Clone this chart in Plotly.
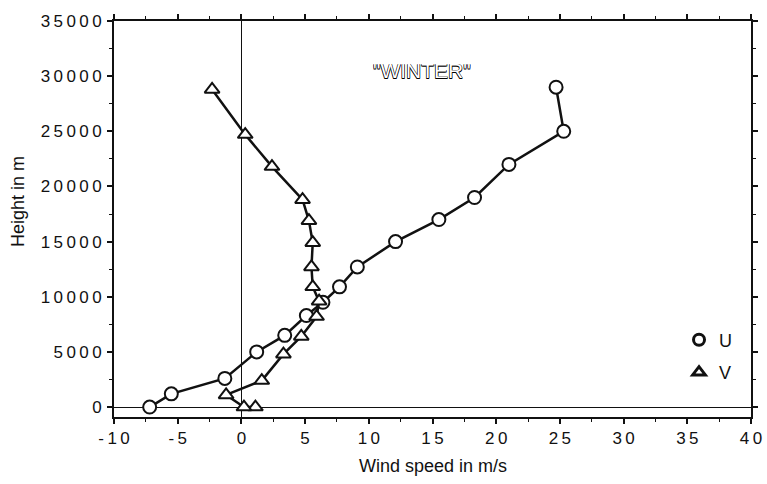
import plotly.graph_objects as go

# U component (circles)
u_speed = [-7.2, -5.5, -1.3, 1.2, 3.4, 5.1, 6.4, 7.7, 9.1, 12.1, 15.5, 18.3, 21.0, 25.3, 24.7]
u_height = [0, 1200, 2600, 5000, 6500, 8300, 9500, 10900, 12700, 15000, 17000, 19000, 22000, 25000, 29000]

# V component (triangles)
v_speed = [1.1, 0.2, -1.2, 1.6, 3.3, 4.7, 5.9, 6.1, 5.6, 5.5, 5.6, 5.3, 4.8, 2.4, 0.3, -2.3]
v_height = [0, 0, 1100, 2400, 4800, 6400, 8200, 9600, 10900, 12700, 14900, 16900, 18800, 21800, 24700, 28800]

x_ticks = [-10, -5, 0, 5, 10, 15, 20, 25, 30, 35, 40]
y_ticks = [0, 5000, 10000, 15000, 20000, 25000, 30000, 35000]

TS = "\u2009"  # thin space to mimic letter-spaced digits


def spaced(v):
    return TS.join(str(v))


FONT = "Liberation Sans, Arial, sans-serif"
INK = "#111111"

fig = go.Figure()

fig.add_trace(go.Scatter(
    x=u_speed, y=u_height, mode="lines+markers", name="U", showlegend=False,
    line=dict(color=INK, width=2.5),
    marker=dict(symbol="circle", size=13, color="white", line=dict(color=INK, width=2)),
))
fig.add_trace(go.Scatter(
    x=v_speed, y=v_height, mode="lines+markers", name="V", showlegend=False,
    line=dict(color=INK, width=2.5),
    marker=dict(symbol="triangle-up", size=13, color="white", line=dict(color=INK, width=2)),
))

# legend-only entries (markers without line)
fig.add_trace(go.Scatter(
    x=[None], y=[None], mode="markers", name="U", legendgroup="u",
    marker=dict(symbol="circle", size=11, color="white", line=dict(color=INK, width=3)),
))
fig.add_trace(go.Scatter(
    x=[None], y=[None], mode="markers", name="V", legendgroup="v",
    marker=dict(symbol="triangle-up", size=11, color="white", line=dict(color=INK, width=3)),
))

axis_common = dict(
    showgrid=False, automargin=False,
    showline=True, linecolor=INK, linewidth=2, mirror="allticks",
    ticks="outside", ticklen=5, tickwidth=1.5, tickcolor=INK,
    zeroline=True, zerolinecolor=INK, zerolinewidth=1.3,
    tickfont=dict(family=FONT, size=17, color=INK),
)

fig.update_xaxes(
    range=[-10, 40], tickvals=x_ticks, ticktext=[spaced(t) for t in x_ticks],
    minor=dict(dtick=2.5, ticks="outside", ticklen=3, tickwidth=1.2, tickcolor=INK, showgrid=False),
    **axis_common,
)
fig.update_yaxes(
    range=[-900, 35000], tickvals=y_ticks, ticktext=[spaced(t) for t in y_ticks],
    minor=dict(dtick=2500, ticks="outside", ticklen=3, tickwidth=1.2, tickcolor=INK, showgrid=False),
    ticklabelstandoff=2,
    **axis_common,
)

fig.add_annotation(
    text="Wind speed in m/s", xref="paper", yref="paper", x=0.5, y=-0.124,
    xanchor="center", yanchor="middle", showarrow=False,
    font=dict(family=FONT, size=18, color=INK),
)
fig.add_annotation(
    text="Height in m", xref="paper", yref="paper", x=-0.151, y=0.545,
    xanchor="center", yanchor="middle", showarrow=False, textangle=-90,
    font=dict(family=FONT, size=18, color=INK),
)
fig.add_annotation(
    text='"WINTER"', xref="x", yref="y", x=14.2, y=30500,
    xanchor="center", yanchor="middle", showarrow=False,
    font=dict(family=FONT, size=21, color="white",
              shadow="-0.5px -0.5px 0 #000, 0.5px -0.5px 0 #000, -0.5px 0.5px 0 #000, 0.5px 0.5px 0 #000"),
)

fig.update_layout(
    width=767, height=484,
    margin=dict(l=114, r=16, t=21, b=67, autoexpand=False),
    paper_bgcolor="white", plot_bgcolor="white",
    showlegend=True,
    legend=dict(
        x=0.887, y=0.241, xanchor="left", yanchor="top",
        bgcolor="rgba(0,0,0,0)", borderwidth=0,
        font=dict(family=FONT, size=18, color=INK),
        traceorder="grouped", tracegroupgap=6,
    ),
)

# remove the default page margin so the figure fills the 767x484 window exactly
fig.write_html(
    "out.html",
    config={"displayModeBar": False},
    post_script="document.body.style.margin='0';document.body.style.overflow='hidden';",
)
